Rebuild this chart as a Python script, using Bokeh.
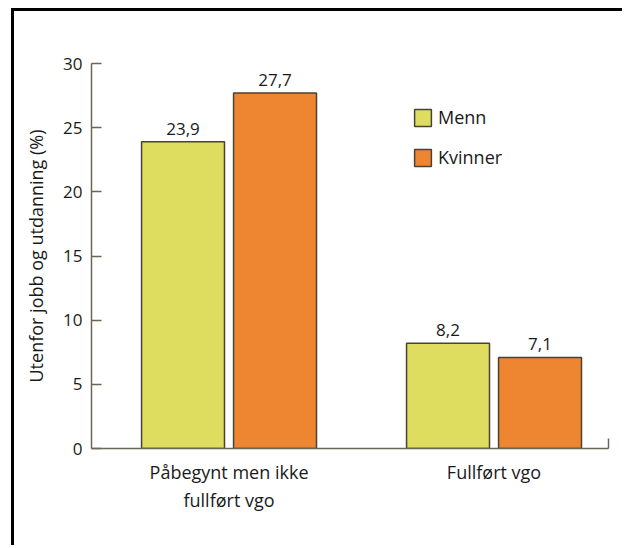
from bokeh.plotting import figure
from bokeh.models import Range1d, FixedTicker, Legend, LegendItem, ColumnDataSource
from bokeh.core.properties import value
from bokeh.embed import file_html
from bokeh.resources import INLINE

categories = ["Påbegynt men ikke\nfullført vgo", "Fullført vgo"]
series_names = ["Menn", "Kvinner"]
menn = [23.9, 8.2]
kvinner = [27.7, 7.1]
y_ticks = [0, 5, 10, 15, 20, 25, 30]
y_title = "Utenfor jobb og utdanning (%)"

FONT = "Open Sans"
colors = ["#DEDD60", "#EE8631"]
edge = "#4a4232"
axis_col = "#6e6655"
txt = "#1a1a1a"

x_start, x_end = -0.519, 1.432
OX, OY = 14, 11          # canvas origin on the page (margin + border)
W, H = 625 - OX, 548 - OY
p = figure(width=W, height=H, output_backend="svg", toolbar_location=None,
           x_range=Range1d(x_start, x_end), y_range=Range1d(0, 30),
           min_border_left=91 - OX, min_border_right=W - (608 - OX),
           min_border_top=63 - OY, min_border_bottom=H - (448 - OY))
p.styles = {"margin-top": "8px", "margin-left": "11px",
            "border-top": "3px solid black", "border-left": "3px solid black"}
p.outline_line_color = None
p.xgrid.grid_line_color = None
p.ygrid.grid_line_color = None
p.background_fill_color = "white"
p.border_fill_color = "white"

bw = 0.313
off = 0.1736
idx = list(range(len(categories)))
renderers = []
for s, (name, vals, col) in enumerate(zip(series_names, [menn, kvinner], colors)):
    xs = [i + (off if s else -off) for i in idx]
    src = ColumnDataSource(dict(x=xs, top=vals,
                                lab=[f"{v:.1f}".replace(".", ",") for v in vals]))
    r = p.vbar(x="x", top="top", bottom=0, width=bw, source=src,
               fill_color=col, line_color=edge, line_width=1.5)
    renderers.append(r)
    p.text(x="x", y="top", text="lab", source=src, text_align="center",
           text_baseline="bottom", y_offset=-7, text_font=value(FONT),
           text_font_size="17px", text_color=txt)

# axes
p.yaxis.ticker = FixedTicker(ticks=y_ticks)
p.yaxis.axis_label = y_title
p.yaxis.axis_label_text_font = FONT
p.yaxis.axis_label_text_font_style = "normal"
p.yaxis.axis_label_text_font_size = "18px"
p.yaxis.axis_label_text_color = txt
p.yaxis.axis_label_standoff = 12
p.yaxis.major_label_text_font = FONT
p.yaxis.major_label_text_font_size = "17px"
p.yaxis.major_label_text_color = txt
p.yaxis.major_tick_in = 10
p.yaxis.major_tick_out = 0
p.yaxis.minor_tick_line_color = None
p.yaxis.major_label_standoff = 9
p.yaxis.axis_line_color = axis_col
p.yaxis.major_tick_line_color = axis_col
p.yaxis.axis_line_width = 1.5
p.yaxis.major_tick_line_width = 1.5

p.xaxis.ticker = FixedTicker(ticks=idx, minor_ticks=[x_end])
p.xaxis.major_label_overrides = {i: c for i, c in zip(idx, categories)}
p.xaxis.major_label_text_font = FONT
p.xaxis.major_label_text_font_size = "18px"
p.xaxis.major_label_text_color = txt
p.xaxis.major_label_standoff = 11
p.xaxis.major_tick_in = 0
p.xaxis.major_tick_out = 0
p.xaxis.minor_tick_in = 10
p.xaxis.minor_tick_out = 0
p.xaxis.minor_tick_line_color = axis_col
p.xaxis.minor_tick_line_width = 1.5
p.xaxis.axis_line_color = axis_col
p.xaxis.axis_line_width = 1.5

legend = Legend(items=[LegendItem(label=n, renderers=[r]) for n, r in zip(series_names, renderers)],
                location=(321, 279), glyph_width=21, glyph_height=21, spacing=16,
                padding=0, margin=0, border_line_color=None, background_fill_alpha=0,
                label_text_font=FONT, label_text_font_size="18px", label_text_color=txt,
                label_standoff=5)
p.add_layout(legend)

open("out.html", "w").write(file_html(p, INLINE))
